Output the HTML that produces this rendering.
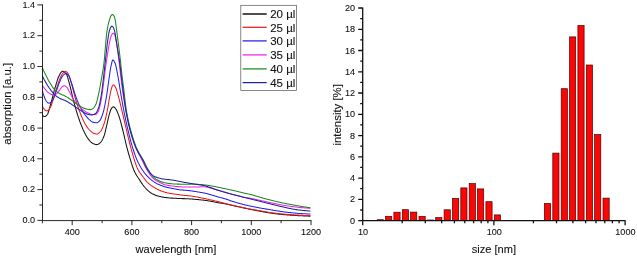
<!DOCTYPE html>
<html><head><meta charset="utf-8"><title>absorption and size distribution</title>
<style>
html,body{margin:0;padding:0;background:#fff;}
svg{display:block;font-family:"Liberation Sans",Arial,sans-serif;fill:#111;}
text{stroke:#111;stroke-width:0.1px;}
.ax{stroke:#111;stroke-width:0.9;fill:none;}
.cv{fill:none;stroke-width:1.05;stroke-linejoin:round;stroke-linecap:round;}
.tk{font-size:9.5px;}
.lb{font-size:11.4px;}
.lg{font-size:11.8px;}
.bar{fill:#fb0505;stroke:#4a0000;stroke-width:0.7;}
</style></head><body>
<svg width="637" height="257" viewBox="0 0 637 257">
<rect width="637" height="257" fill="#fff"/>
<path class="cv" stroke="#151515" d="M42.5,114.8 L43.0,115.5 L43.5,116.1 L44.0,116.5 L44.5,116.6 L45.0,116.5 L45.5,116.3 L46.0,115.9 L46.5,115.5 L47.0,115.0 L47.5,114.3 L48.0,113.2 L48.5,111.8 L49.0,110.2 L49.5,108.4 L50.0,106.6 L50.5,104.7 L51.0,103.0 L51.5,101.3 L52.0,99.4 L52.5,97.5 L53.0,95.5 L53.5,93.5 L54.0,91.6 L54.5,89.7 L55.0,88.0 L55.5,86.3 L56.0,84.6 L56.5,82.9 L57.0,81.3 L57.5,79.7 L58.0,78.3 L58.5,77.0 L59.0,76.0 L59.5,75.0 L60.0,74.1 L60.5,73.2 L61.0,72.4 L61.5,71.8 L62.0,71.4 L62.5,71.2 L63.0,71.3 L63.5,71.4 L64.0,71.7 L64.5,72.1 L65.0,72.5 L65.5,73.0 L66.0,73.5 L66.5,74.3 L67.0,75.4 L67.5,76.9 L68.0,78.6 L68.5,80.4 L69.0,82.2 L69.5,84.0 L70.0,85.8 L70.5,87.8 L71.0,89.9 L71.5,92.1 L72.0,94.3 L72.5,96.5 L73.0,98.6 L73.5,100.6 L74.0,102.5 L74.5,104.3 L75.0,106.1 L75.5,107.9 L76.0,109.6 L76.5,111.3 L77.0,113.0 L77.5,114.6 L78.0,116.1 L78.5,117.6 L79.0,119.0 L79.5,120.5 L80.0,121.9 L80.5,123.2 L81.0,124.5 L81.5,125.8 L82.0,127.0 L82.5,128.2 L83.0,129.4 L83.5,130.4 L84.0,131.5 L84.5,132.5 L85.0,133.5 L85.5,134.5 L86.0,135.4 L86.5,136.3 L87.0,137.2 L87.5,137.9 L88.0,138.7 L88.5,139.3 L89.0,139.9 L89.5,140.5 L90.0,141.1 L90.5,141.6 L91.0,142.1 L91.5,142.5 L92.0,142.9 L92.5,143.2 L93.0,143.5 L93.5,143.7 L94.0,143.9 L94.5,144.1 L95.0,144.3 L95.5,144.4 L96.0,144.5 L96.5,144.6 L97.0,144.6 L97.5,144.5 L98.0,144.3 L98.5,144.0 L99.0,143.7 L99.5,143.3 L100.0,142.9 L100.5,142.5 L101.0,142.0 L101.5,141.3 L102.0,140.5 L102.5,139.5 L103.0,138.4 L103.5,137.2 L104.0,136.0 L104.5,134.5 L105.0,132.7 L105.5,130.6 L106.0,128.4 L106.5,126.3 L107.0,124.2 L107.5,122.0 L108.0,119.7 L108.5,117.5 L109.0,115.4 L109.5,113.7 L110.0,112.0 L110.5,110.5 L111.0,109.2 L111.5,108.4 L112.0,107.7 L112.5,107.2 L113.0,106.9 L113.5,106.8 L114.0,107.0 L114.5,107.4 L115.0,107.9 L115.5,108.5 L116.0,109.2 L116.5,110.0 L117.0,111.1 L117.5,112.3 L118.0,113.6 L118.5,114.9 L119.0,116.3 L119.5,117.8 L120.0,119.4 L120.5,121.2 L121.0,123.1 L121.5,125.0 L122.0,127.0 L122.5,129.0 L123.0,131.0 L123.5,133.0 L124.0,135.1 L124.5,137.3 L125.0,139.5 L125.5,141.7 L126.0,143.8 L126.5,145.8 L127.0,147.8 L127.5,149.6 L128.0,151.5 L128.5,153.3 L129.0,155.0 L129.5,156.7 L130.0,158.4 L130.5,160.0 L131.0,161.6 L131.5,163.3 L132.0,164.9 L132.5,166.5 L133.0,167.9 L133.5,169.3 L134.0,170.6 L134.5,171.6 L135.0,172.6 L135.5,173.5 L136.0,174.4 L136.5,175.2 L137.0,176.0 L137.5,176.7 L138.0,177.5 L138.5,178.2 L139.0,179.0 L139.5,179.8 L140.0,180.6 L140.5,181.4 L141.0,182.1 L141.5,182.9 L142.0,183.6 L142.5,184.3 L143.0,185.0 L143.5,185.6 L144.0,186.3 L144.5,186.9 L145.0,187.5 L145.5,188.0 L146.0,188.6 L146.5,189.1 L147.0,189.6 L147.5,190.1 L148.0,190.6 L148.5,191.0 L149.0,191.5 L149.5,191.9 L150.0,192.3 L150.5,192.6 L151.0,193.0 L151.5,193.3 L152.0,193.6 L152.5,193.9 L153.0,194.1 L153.5,194.3 L154.0,194.6 L154.5,194.8 L155.0,195.0 L155.5,195.2 L156.0,195.4 L156.5,195.5 L157.0,195.7 L157.5,195.9 L158.0,196.0 L158.5,196.1 L159.0,196.3 L159.5,196.4 L160.0,196.5 L160.5,196.6 L161.0,196.8 L161.5,196.9 L162.0,197.0 L162.5,197.1 L163.0,197.1 L163.5,197.2 L164.0,197.3 L164.5,197.4 L165.0,197.4 L165.5,197.5 L166.0,197.6 L166.5,197.6 L167.0,197.7 L167.5,197.7 L168.0,197.8 L168.5,197.8 L169.0,197.9 L169.5,197.9 L170.0,198.0 L170.5,198.0 L171.0,198.0 L171.5,198.1 L172.0,198.1 L172.5,198.1 L173.0,198.2 L173.5,198.2 L174.0,198.2 L174.5,198.2 L175.0,198.3 L175.5,198.3 L176.0,198.3 L176.5,198.3 L177.0,198.4 L177.5,198.4 L178.0,198.4 L178.5,198.4 L179.0,198.4 L179.5,198.5 L180.0,198.5 L180.5,198.5 L181.0,198.5 L181.5,198.5 L182.0,198.6 L182.5,198.6 L183.0,198.6 L183.5,198.6 L184.0,198.6 L184.5,198.6 L185.0,198.7 L185.5,198.7 L186.0,198.7 L186.5,198.7 L187.0,198.8 L187.5,198.8 L188.0,198.8 L188.5,198.8 L189.0,198.8 L189.5,198.9 L190.0,198.9 L190.5,198.9 L191.0,199.0 L191.5,199.0 L192.0,199.0 L192.5,199.1 L193.0,199.1 L193.5,199.2 L194.0,199.2 L194.5,199.3 L195.0,199.3 L195.5,199.4 L196.0,199.4 L196.5,199.5 L197.0,199.5 L197.5,199.5 L198.0,199.6 L198.5,199.6 L199.0,199.7 L199.5,199.7 L200.0,199.8 L200.5,199.8 L201.0,199.9 L201.5,199.9 L202.0,200.0 L202.5,200.0 L203.0,200.1 L203.5,200.1 L204.0,200.2 L204.5,200.3 L205.0,200.3 L205.5,200.4 L206.0,200.5 L206.5,200.5 L207.0,200.6 L207.5,200.7 L208.0,200.8 L208.5,200.9 L209.0,201.0 L209.5,201.0 L210.0,201.1 L210.5,201.2 L211.0,201.3 L211.5,201.4 L212.0,201.5 L212.5,201.6 L213.0,201.7 L213.5,201.8 L214.0,201.9 L214.5,202.0 L215.0,202.1 L215.5,202.2 L216.0,202.3 L216.5,202.4 L217.0,202.5 L217.5,202.6 L218.0,202.7 L218.5,202.8 L219.0,202.9 L219.5,202.9 L220.0,203.0 L220.5,203.1 L221.0,203.2 L221.5,203.2 L222.0,203.3 L222.5,203.4 L223.0,203.5 L223.5,203.5 L224.0,203.6 L224.5,203.7 L225.0,203.8 L225.5,203.9 L226.0,204.0 L226.5,204.1 L227.0,204.2 L227.5,204.3 L228.0,204.4 L228.5,204.6 L229.0,204.7 L229.5,204.8 L230.0,204.9 L230.5,205.1 L231.0,205.2 L231.5,205.3 L232.0,205.4 L232.5,205.5 L233.0,205.6 L233.5,205.7 L234.0,205.8 L234.5,205.9 L235.0,206.0 L235.5,206.2 L236.0,206.3 L236.5,206.4 L237.0,206.5 L237.5,206.6 L238.0,206.7 L238.5,206.8 L239.0,206.9 L239.5,207.0 L240.0,207.1 L240.5,207.2 L241.0,207.3 L241.5,207.4 L242.0,207.5 L242.5,207.7 L243.0,207.8 L243.5,207.9 L244.0,208.0 L244.5,208.1 L245.0,208.2 L245.5,208.3 L246.0,208.4 L246.5,208.5 L247.0,208.6 L247.5,208.7 L248.0,208.8 L248.5,208.9 L249.0,209.1 L249.5,209.2 L250.0,209.3 L250.5,209.4 L251.0,209.5 L251.5,209.6 L252.0,209.7 L252.5,209.8 L253.0,209.9 L253.5,210.0 L254.0,210.1 L254.5,210.2 L255.0,210.3 L255.5,210.4 L256.0,210.5 L256.5,210.6 L257.0,210.6 L257.5,210.7 L258.0,210.8 L258.5,210.9 L259.0,211.0 L259.5,211.1 L260.0,211.2 L260.5,211.3 L261.0,211.4 L261.5,211.5 L262.0,211.6 L262.5,211.7 L263.0,211.8 L263.5,211.9 L264.0,212.0 L264.5,212.1 L265.0,212.2 L265.5,212.3 L266.0,212.3 L266.5,212.4 L267.0,212.5 L267.5,212.6 L268.0,212.7 L268.5,212.7 L269.0,212.8 L269.5,212.9 L270.0,213.0 L270.5,213.0 L271.0,213.1 L271.5,213.2 L272.0,213.2 L272.5,213.3 L273.0,213.4 L273.5,213.4 L274.0,213.5 L274.5,213.6 L275.0,213.6 L275.5,213.7 L276.0,213.8 L276.5,213.8 L277.0,213.9 L277.5,213.9 L278.0,214.0 L278.5,214.1 L279.0,214.1 L279.5,214.2 L280.0,214.2 L280.5,214.3 L281.0,214.3 L281.5,214.4 L282.0,214.4 L282.5,214.5 L283.0,214.5 L283.5,214.6 L284.0,214.6 L284.5,214.7 L285.0,214.7 L285.5,214.7 L286.0,214.8 L286.5,214.8 L287.0,214.9 L287.5,214.9 L288.0,214.9 L288.5,215.0 L289.0,215.0 L289.5,215.0 L290.0,215.1 L290.5,215.1 L291.0,215.1 L291.5,215.2 L292.0,215.2 L292.5,215.2 L293.0,215.3 L293.5,215.3 L294.0,215.3 L294.5,215.4 L295.0,215.4 L295.5,215.4 L296.0,215.5 L296.5,215.5 L297.0,215.5 L297.5,215.6 L298.0,215.6 L298.5,215.6 L299.0,215.6 L299.5,215.7 L300.0,215.7 L300.5,215.7 L301.0,215.7 L301.5,215.8 L302.0,215.8 L302.5,215.8 L303.0,215.8 L303.5,215.9 L304.0,215.9 L304.5,215.9 L305.0,215.9 L305.5,215.9 L306.0,216.0 L306.5,216.0 L307.0,216.0 L307.5,216.0 L308.0,216.0 L308.5,216.1 L309.0,216.1 L309.5,216.1 L310.0,216.1"/>
<path class="cv" stroke="#f01818" d="M42.5,106.2 L43.0,107.2 L43.5,108.1 L44.0,108.9 L44.5,109.6 L45.0,110.0 L45.5,110.3 L46.0,110.6 L46.5,110.8 L47.0,110.9 L47.5,110.8 L48.0,110.5 L48.5,110.0 L49.0,109.4 L49.5,108.7 L50.0,108.0 L50.5,107.2 L51.0,106.1 L51.5,104.7 L52.0,103.3 L52.5,101.7 L53.0,100.1 L53.5,98.5 L54.0,97.0 L54.5,95.5 L55.0,93.8 L55.5,92.1 L56.0,90.4 L56.5,88.7 L57.0,87.0 L57.5,85.4 L58.0,84.0 L58.5,82.6 L59.0,81.2 L59.5,79.9 L60.0,78.6 L60.5,77.3 L61.0,76.2 L61.5,75.3 L62.0,74.5 L62.5,73.8 L63.0,73.1 L63.5,72.5 L64.0,72.0 L64.5,71.6 L65.0,71.3 L65.5,71.3 L66.0,71.5 L66.5,71.9 L67.0,72.3 L67.5,72.9 L68.0,73.6 L68.5,74.3 L69.0,75.4 L69.5,76.8 L70.0,78.4 L70.5,80.2 L71.0,82.0 L71.5,83.7 L72.0,85.5 L72.5,87.4 L73.0,89.4 L73.5,91.4 L74.0,93.4 L74.5,95.4 L75.0,97.2 L75.5,99.0 L76.0,100.7 L76.5,102.3 L77.0,103.9 L77.5,105.4 L78.0,106.9 L78.5,108.4 L79.0,109.8 L79.5,111.2 L80.0,112.5 L80.5,113.8 L81.0,115.0 L81.5,116.2 L82.0,117.4 L82.5,118.6 L83.0,119.7 L83.5,120.8 L84.0,121.8 L84.5,122.7 L85.0,123.7 L85.5,124.5 L86.0,125.3 L86.5,126.1 L87.0,126.9 L87.5,127.6 L88.0,128.3 L88.5,128.9 L89.0,129.5 L89.5,130.0 L90.0,130.5 L90.5,131.0 L91.0,131.5 L91.5,131.9 L92.0,132.3 L92.5,132.7 L93.0,133.0 L93.5,133.2 L94.0,133.4 L94.5,133.5 L95.0,133.7 L95.5,133.8 L96.0,133.9 L96.5,134.0 L97.0,134.0 L97.5,133.9 L98.0,133.7 L98.5,133.4 L99.0,133.0 L99.5,132.5 L100.0,132.0 L100.5,131.5 L101.0,130.9 L101.5,130.0 L102.0,129.1 L102.5,127.9 L103.0,126.7 L103.5,125.4 L104.0,124.0 L104.5,122.5 L105.0,120.7 L105.5,118.7 L106.0,116.6 L106.5,114.3 L107.0,112.0 L107.5,109.5 L108.0,106.6 L108.5,103.5 L109.0,100.5 L109.5,97.6 L110.0,95.0 L110.5,92.5 L111.0,90.1 L111.5,88.1 L112.0,86.8 L112.5,85.8 L113.0,85.0 L113.5,84.9 L114.0,85.2 L114.5,85.7 L115.0,86.4 L115.5,87.2 L116.0,88.2 L116.5,89.6 L117.0,91.3 L117.5,93.1 L118.0,94.9 L118.5,96.7 L119.0,98.6 L119.5,100.5 L120.0,102.5 L120.5,104.6 L121.0,106.7 L121.5,108.8 L122.0,110.8 L122.5,112.9 L123.0,115.1 L123.5,117.2 L124.0,119.4 L124.5,121.6 L125.0,123.7 L125.5,125.9 L126.0,128.0 L126.5,130.1 L127.0,132.2 L127.5,134.3 L128.0,136.4 L128.5,138.5 L129.0,140.5 L129.5,142.5 L130.0,144.5 L130.5,146.4 L131.0,148.3 L131.5,150.1 L132.0,151.9 L132.5,153.7 L133.0,155.5 L133.5,157.2 L134.0,158.8 L134.5,160.3 L135.0,161.8 L135.5,163.3 L136.0,164.7 L136.5,166.1 L137.0,167.4 L137.5,168.6 L138.0,169.6 L138.5,170.5 L139.0,171.4 L139.5,172.2 L140.0,172.9 L140.5,173.5 L141.0,174.2 L141.5,174.8 L142.0,175.5 L142.5,176.1 L143.0,176.8 L143.5,177.5 L144.0,178.1 L144.5,178.8 L145.0,179.5 L145.5,180.2 L146.0,180.8 L146.5,181.4 L147.0,182.0 L147.5,182.5 L148.0,183.0 L148.5,183.4 L149.0,183.8 L149.5,184.2 L150.0,184.6 L150.5,185.0 L151.0,185.3 L151.5,185.7 L152.0,186.0 L152.5,186.3 L153.0,186.7 L153.5,187.0 L154.0,187.3 L154.5,187.6 L155.0,187.9 L155.5,188.2 L156.0,188.5 L156.5,188.8 L157.0,189.1 L157.5,189.4 L158.0,189.6 L158.5,189.8 L159.0,190.1 L159.5,190.3 L160.0,190.5 L160.5,190.7 L161.0,190.9 L161.5,191.1 L162.0,191.3 L162.5,191.4 L163.0,191.6 L163.5,191.8 L164.0,191.9 L164.5,192.1 L165.0,192.2 L165.5,192.4 L166.0,192.5 L166.5,192.6 L167.0,192.8 L167.5,192.9 L168.0,193.0 L168.5,193.1 L169.0,193.2 L169.5,193.3 L170.0,193.4 L170.5,193.5 L171.0,193.5 L171.5,193.6 L172.0,193.7 L172.5,193.8 L173.0,193.8 L173.5,193.9 L174.0,194.0 L174.5,194.0 L175.0,194.1 L175.5,194.2 L176.0,194.2 L176.5,194.3 L177.0,194.4 L177.5,194.5 L178.0,194.5 L178.5,194.6 L179.0,194.7 L179.5,194.7 L180.0,194.8 L180.5,194.9 L181.0,195.0 L181.5,195.0 L182.0,195.1 L182.5,195.1 L183.0,195.2 L183.5,195.3 L184.0,195.3 L184.5,195.4 L185.0,195.4 L185.5,195.5 L186.0,195.5 L186.5,195.5 L187.0,195.6 L187.5,195.6 L188.0,195.7 L188.5,195.7 L189.0,195.8 L189.5,195.8 L190.0,195.9 L190.5,196.0 L191.0,196.0 L191.5,196.1 L192.0,196.2 L192.5,196.2 L193.0,196.3 L193.5,196.4 L194.0,196.5 L194.5,196.6 L195.0,196.7 L195.5,196.7 L196.0,196.8 L196.5,196.9 L197.0,197.0 L197.5,197.1 L198.0,197.2 L198.5,197.3 L199.0,197.4 L199.5,197.5 L200.0,197.6 L200.5,197.7 L201.0,197.8 L201.5,197.9 L202.0,198.0 L202.5,198.1 L203.0,198.2 L203.5,198.3 L204.0,198.4 L204.5,198.5 L205.0,198.6 L205.5,198.7 L206.0,198.8 L206.5,199.0 L207.0,199.1 L207.5,199.2 L208.0,199.3 L208.5,199.4 L209.0,199.5 L209.5,199.7 L210.0,199.8 L210.5,199.9 L211.0,200.0 L211.5,200.1 L212.0,200.2 L212.5,200.3 L213.0,200.5 L213.5,200.6 L214.0,200.7 L214.5,200.8 L215.0,200.9 L215.5,201.0 L216.0,201.1 L216.5,201.2 L217.0,201.4 L217.5,201.5 L218.0,201.6 L218.5,201.7 L219.0,201.8 L219.5,202.0 L220.0,202.1 L220.5,202.2 L221.0,202.4 L221.5,202.5 L222.0,202.6 L222.5,202.8 L223.0,202.9 L223.5,203.0 L224.0,203.1 L224.5,203.3 L225.0,203.4 L225.5,203.5 L226.0,203.6 L226.5,203.8 L227.0,203.9 L227.5,204.0 L228.0,204.1 L228.5,204.3 L229.0,204.4 L229.5,204.5 L230.0,204.6 L230.5,204.7 L231.0,204.9 L231.5,205.0 L232.0,205.1 L232.5,205.2 L233.0,205.3 L233.5,205.5 L234.0,205.6 L234.5,205.7 L235.0,205.8 L235.5,205.9 L236.0,206.0 L236.5,206.1 L237.0,206.3 L237.5,206.4 L238.0,206.5 L238.5,206.6 L239.0,206.7 L239.5,206.8 L240.0,206.9 L240.5,207.0 L241.0,207.1 L241.5,207.2 L242.0,207.4 L242.5,207.5 L243.0,207.6 L243.5,207.7 L244.0,207.8 L244.5,207.9 L245.0,208.0 L245.5,208.1 L246.0,208.2 L246.5,208.3 L247.0,208.4 L247.5,208.5 L248.0,208.6 L248.5,208.7 L249.0,208.8 L249.5,208.9 L250.0,209.0 L250.5,209.1 L251.0,209.2 L251.5,209.3 L252.0,209.4 L252.5,209.5 L253.0,209.6 L253.5,209.7 L254.0,209.8 L254.5,209.8 L255.0,209.9 L255.5,210.0 L256.0,210.1 L256.5,210.1 L257.0,210.2 L257.5,210.3 L258.0,210.4 L258.5,210.4 L259.0,210.5 L259.5,210.6 L260.0,210.7 L260.5,210.8 L261.0,210.9 L261.5,211.0 L262.0,211.1 L262.5,211.2 L263.0,211.3 L263.5,211.4 L264.0,211.5 L264.5,211.6 L265.0,211.7 L265.5,211.8 L266.0,211.8 L266.5,211.9 L267.0,212.0 L267.5,212.1 L268.0,212.2 L268.5,212.2 L269.0,212.3 L269.5,212.4 L270.0,212.5 L270.5,212.5 L271.0,212.6 L271.5,212.7 L272.0,212.7 L272.5,212.8 L273.0,212.9 L273.5,212.9 L274.0,213.0 L274.5,213.1 L275.0,213.1 L275.5,213.2 L276.0,213.3 L276.5,213.3 L277.0,213.4 L277.5,213.4 L278.0,213.5 L278.5,213.6 L279.0,213.6 L279.5,213.7 L280.0,213.7 L280.5,213.8 L281.0,213.8 L281.5,213.9 L282.0,213.9 L282.5,214.0 L283.0,214.0 L283.5,214.1 L284.0,214.1 L284.5,214.2 L285.0,214.2 L285.5,214.2 L286.0,214.3 L286.5,214.3 L287.0,214.4 L287.5,214.4 L288.0,214.4 L288.5,214.5 L289.0,214.5 L289.5,214.5 L290.0,214.6 L290.5,214.6 L291.0,214.6 L291.5,214.7 L292.0,214.7 L292.5,214.7 L293.0,214.8 L293.5,214.8 L294.0,214.8 L294.5,214.9 L295.0,214.9 L295.5,214.9 L296.0,215.0 L296.5,215.0 L297.0,215.0 L297.5,215.1 L298.0,215.1 L298.5,215.1 L299.0,215.1 L299.5,215.2 L300.0,215.2 L300.5,215.2 L301.0,215.2 L301.5,215.3 L302.0,215.3 L302.5,215.3 L303.0,215.3 L303.5,215.4 L304.0,215.4 L304.5,215.4 L305.0,215.4 L305.5,215.4 L306.0,215.5 L306.5,215.5 L307.0,215.5 L307.5,215.5 L308.0,215.5 L308.5,215.6 L309.0,215.6 L309.5,215.6 L310.0,215.6"/>
<path class="cv" stroke="#2020f0" d="M42.5,91.5 L43.0,93.1 L43.5,94.6 L44.0,96.0 L44.5,97.3 L45.0,98.6 L45.5,99.8 L46.0,100.8 L46.5,101.5 L47.0,102.0 L47.5,102.5 L48.0,102.9 L48.5,103.1 L49.0,103.2 L49.5,103.1 L50.0,102.9 L50.5,102.5 L51.0,102.1 L51.5,101.5 L52.0,101.0 L52.5,100.3 L53.0,99.5 L53.5,98.4 L54.0,97.2 L54.5,95.9 L55.0,94.6 L55.5,93.3 L56.0,92.0 L56.5,90.7 L57.0,89.3 L57.5,87.8 L58.0,86.4 L58.5,84.9 L59.0,83.5 L59.5,82.2 L60.0,81.0 L60.5,79.9 L61.0,78.8 L61.5,77.8 L62.0,76.9 L62.5,76.1 L63.0,75.5 L63.5,75.0 L64.0,74.5 L64.5,74.1 L65.0,73.8 L65.5,73.6 L66.0,73.6 L66.5,73.8 L67.0,74.1 L67.5,74.5 L68.0,75.0 L68.5,75.5 L69.0,76.2 L69.5,77.3 L70.0,78.6 L70.5,80.1 L71.0,81.6 L71.5,83.0 L72.0,84.5 L72.5,86.0 L73.0,87.7 L73.5,89.4 L74.0,91.0 L74.5,92.7 L75.0,94.3 L75.5,95.7 L76.0,97.1 L76.5,98.4 L77.0,99.7 L77.5,101.0 L78.0,102.2 L78.5,103.4 L79.0,104.5 L79.5,105.6 L80.0,106.6 L80.5,107.6 L81.0,108.5 L81.5,109.4 L82.0,110.2 L82.5,111.1 L83.0,111.9 L83.5,112.6 L84.0,113.4 L84.5,114.1 L85.0,114.7 L85.5,115.4 L86.0,116.0 L86.5,116.6 L87.0,117.2 L87.5,117.8 L88.0,118.4 L88.5,118.9 L89.0,119.4 L89.5,119.8 L90.0,120.2 L90.5,120.6 L91.0,121.1 L91.5,121.4 L92.0,121.7 L92.5,122.0 L93.0,122.2 L93.5,122.3 L94.0,122.5 L94.5,122.6 L95.0,122.7 L95.5,122.8 L96.0,122.8 L96.5,122.8 L97.0,122.7 L97.5,122.5 L98.0,122.2 L98.5,121.8 L99.0,121.4 L99.5,121.0 L100.0,120.4 L100.5,119.6 L101.0,118.6 L101.5,117.3 L102.0,116.0 L102.5,114.5 L103.0,113.0 L103.5,111.3 L104.0,109.3 L104.5,107.0 L105.0,104.5 L105.5,101.8 L106.0,99.1 L106.5,96.3 L107.0,93.0 L107.5,89.6 L108.0,86.0 L108.5,82.4 L109.0,79.0 L109.5,75.5 L110.0,71.9 L110.5,68.6 L111.0,66.0 L111.5,63.8 L112.0,61.7 L112.5,60.3 L113.0,59.9 L113.5,60.2 L114.0,61.0 L114.5,61.9 L115.0,63.0 L115.5,64.4 L116.0,66.4 L116.5,68.7 L117.0,71.3 L117.5,74.0 L118.0,76.6 L118.5,79.5 L119.0,82.6 L119.5,85.8 L120.0,89.0 L120.5,92.0 L121.0,94.9 L121.5,97.8 L122.0,100.7 L122.5,103.5 L123.0,106.3 L123.5,109.0 L124.0,111.5 L124.5,114.1 L125.0,116.5 L125.5,118.9 L126.0,121.3 L126.5,123.6 L127.0,125.8 L127.5,128.0 L128.0,130.1 L128.5,132.2 L129.0,134.3 L129.5,136.3 L130.0,138.3 L130.5,140.3 L131.0,142.1 L131.5,143.9 L132.0,145.7 L132.5,147.3 L133.0,148.9 L133.5,150.5 L134.0,152.0 L134.5,153.5 L135.0,154.9 L135.5,156.3 L136.0,157.6 L136.5,158.8 L137.0,160.0 L137.5,161.1 L138.0,162.2 L138.5,163.2 L139.0,164.1 L139.5,165.1 L140.0,166.0 L140.5,166.8 L141.0,167.7 L141.5,168.5 L142.0,169.3 L142.5,170.1 L143.0,170.8 L143.5,171.5 L144.0,172.2 L144.5,172.9 L145.0,173.5 L145.5,174.1 L146.0,174.7 L146.5,175.3 L147.0,175.9 L147.5,176.4 L148.0,176.9 L148.5,177.4 L149.0,177.9 L149.5,178.4 L150.0,178.8 L150.5,179.2 L151.0,179.7 L151.5,180.1 L152.0,180.5 L152.5,180.8 L153.0,181.2 L153.5,181.6 L154.0,181.9 L154.5,182.3 L155.0,182.6 L155.5,182.9 L156.0,183.1 L156.5,183.4 L157.0,183.7 L157.5,183.9 L158.0,184.1 L158.5,184.4 L159.0,184.6 L159.5,184.8 L160.0,185.0 L160.5,185.2 L161.0,185.4 L161.5,185.6 L162.0,185.8 L162.5,186.0 L163.0,186.2 L163.5,186.3 L164.0,186.5 L164.5,186.7 L165.0,186.8 L165.5,187.0 L166.0,187.1 L166.5,187.2 L167.0,187.4 L167.5,187.5 L168.0,187.6 L168.5,187.7 L169.0,187.8 L169.5,187.9 L170.0,188.0 L170.5,188.1 L171.0,188.2 L171.5,188.3 L172.0,188.4 L172.5,188.5 L173.0,188.6 L173.5,188.7 L174.0,188.8 L174.5,188.9 L175.0,189.0 L175.5,189.1 L176.0,189.2 L176.5,189.3 L177.0,189.4 L177.5,189.4 L178.0,189.5 L178.5,189.6 L179.0,189.7 L179.5,189.7 L180.0,189.8 L180.5,189.9 L181.0,189.9 L181.5,190.0 L182.0,190.0 L182.5,190.0 L183.0,190.1 L183.5,190.1 L184.0,190.2 L184.5,190.2 L185.0,190.2 L185.5,190.3 L186.0,190.3 L186.5,190.3 L187.0,190.4 L187.5,190.4 L188.0,190.5 L188.5,190.5 L189.0,190.6 L189.5,190.6 L190.0,190.7 L190.5,190.8 L191.0,190.8 L191.5,190.9 L192.0,191.0 L192.5,191.1 L193.0,191.1 L193.5,191.2 L194.0,191.3 L194.5,191.4 L195.0,191.5 L195.5,191.5 L196.0,191.6 L196.5,191.7 L197.0,191.8 L197.5,191.9 L198.0,192.0 L198.5,192.0 L199.0,192.1 L199.5,192.2 L200.0,192.3 L200.5,192.4 L201.0,192.4 L201.5,192.5 L202.0,192.6 L202.5,192.7 L203.0,192.8 L203.5,192.9 L204.0,193.0 L204.5,193.1 L205.0,193.2 L205.5,193.3 L206.0,193.5 L206.5,193.6 L207.0,193.7 L207.5,193.8 L208.0,194.0 L208.5,194.1 L209.0,194.2 L209.5,194.4 L210.0,194.5 L210.5,194.7 L211.0,194.8 L211.5,194.9 L212.0,195.1 L212.5,195.2 L213.0,195.4 L213.5,195.5 L214.0,195.7 L214.5,195.8 L215.0,196.0 L215.5,196.2 L216.0,196.3 L216.5,196.5 L217.0,196.6 L217.5,196.8 L218.0,196.9 L218.5,197.0 L219.0,197.2 L219.5,197.3 L220.0,197.4 L220.5,197.6 L221.0,197.7 L221.5,197.8 L222.0,198.0 L222.5,198.1 L223.0,198.2 L223.5,198.4 L224.0,198.5 L224.5,198.7 L225.0,198.8 L225.5,199.0 L226.0,199.1 L226.5,199.3 L227.0,199.5 L227.5,199.6 L228.0,199.8 L228.5,200.0 L229.0,200.2 L229.5,200.3 L230.0,200.5 L230.5,200.7 L231.0,200.9 L231.5,201.0 L232.0,201.2 L232.5,201.4 L233.0,201.5 L233.5,201.7 L234.0,201.8 L234.5,202.0 L235.0,202.1 L235.5,202.3 L236.0,202.4 L236.5,202.6 L237.0,202.7 L237.5,202.9 L238.0,203.0 L238.5,203.2 L239.0,203.3 L239.5,203.4 L240.0,203.6 L240.5,203.7 L241.0,203.8 L241.5,204.0 L242.0,204.1 L242.5,204.2 L243.0,204.4 L243.5,204.5 L244.0,204.6 L244.5,204.7 L245.0,204.9 L245.5,205.0 L246.0,205.1 L246.5,205.2 L247.0,205.3 L247.5,205.4 L248.0,205.6 L248.5,205.7 L249.0,205.8 L249.5,205.9 L250.0,206.0 L250.5,206.1 L251.0,206.2 L251.5,206.3 L252.0,206.4 L252.5,206.5 L253.0,206.6 L253.5,206.7 L254.0,206.8 L254.5,206.9 L255.0,207.0 L255.5,207.1 L256.0,207.2 L256.5,207.3 L257.0,207.4 L257.5,207.5 L258.0,207.6 L258.5,207.7 L259.0,207.8 L259.5,207.9 L260.0,208.0 L260.5,208.1 L261.0,208.2 L261.5,208.2 L262.0,208.3 L262.5,208.4 L263.0,208.4 L263.5,208.5 L264.0,208.6 L264.5,208.7 L265.0,208.8 L265.5,208.9 L266.0,209.0 L266.5,209.1 L267.0,209.1 L267.5,209.2 L268.0,209.3 L268.5,209.4 L269.0,209.5 L269.5,209.6 L270.0,209.7 L270.5,209.8 L271.0,209.9 L271.5,210.0 L272.0,210.1 L272.5,210.1 L273.0,210.2 L273.5,210.3 L274.0,210.4 L274.5,210.5 L275.0,210.5 L275.5,210.6 L276.0,210.7 L276.5,210.8 L277.0,210.8 L277.5,210.9 L278.0,211.0 L278.5,211.1 L279.0,211.1 L279.5,211.2 L280.0,211.3 L280.5,211.4 L281.0,211.4 L281.5,211.5 L282.0,211.6 L282.5,211.7 L283.0,211.7 L283.5,211.8 L284.0,211.9 L284.5,211.9 L285.0,212.0 L285.5,212.1 L286.0,212.1 L286.5,212.2 L287.0,212.2 L287.5,212.3 L288.0,212.4 L288.5,212.4 L289.0,212.5 L289.5,212.5 L290.0,212.6 L290.5,212.6 L291.0,212.7 L291.5,212.7 L292.0,212.8 L292.5,212.8 L293.0,212.9 L293.5,212.9 L294.0,213.0 L294.5,213.0 L295.0,213.1 L295.5,213.1 L296.0,213.2 L296.5,213.2 L297.0,213.3 L297.5,213.3 L298.0,213.4 L298.5,213.4 L299.0,213.4 L299.5,213.5 L300.0,213.5 L300.5,213.5 L301.0,213.6 L301.5,213.6 L302.0,213.6 L302.5,213.7 L303.0,213.7 L303.5,213.7 L304.0,213.7 L304.5,213.8 L305.0,213.8 L305.5,213.8 L306.0,213.8 L306.5,213.9 L307.0,213.9 L307.5,213.9 L308.0,213.9 L308.5,214.0 L309.0,214.0 L309.5,214.0 L310.0,214.0"/>
<path class="cv" stroke="#f020f0" d="M42.5,85.7 L43.0,86.4 L43.5,87.1 L44.0,87.7 L44.5,88.4 L45.0,89.0 L45.5,89.6 L46.0,90.2 L46.5,90.8 L47.0,91.3 L47.5,91.9 L48.0,92.3 L48.5,92.7 L49.0,93.1 L49.5,93.5 L50.0,93.8 L50.5,94.1 L51.0,94.3 L51.5,94.5 L52.0,94.6 L52.5,94.8 L53.0,94.9 L53.5,95.0 L54.0,95.0 L54.5,94.9 L55.0,94.8 L55.5,94.5 L56.0,94.2 L56.5,93.9 L57.0,93.5 L57.5,93.0 L58.0,92.4 L58.5,91.7 L59.0,90.9 L59.5,90.2 L60.0,89.5 L60.5,88.8 L61.0,88.1 L61.5,87.5 L62.0,86.9 L62.5,86.5 L63.0,86.2 L63.5,86.0 L64.0,85.8 L64.5,85.7 L65.0,85.8 L65.5,86.1 L66.0,86.5 L66.5,87.0 L67.0,87.5 L67.5,88.1 L68.0,88.9 L68.5,89.9 L69.0,90.9 L69.5,91.8 L70.0,92.7 L70.5,93.7 L71.0,94.7 L71.5,95.8 L72.0,96.8 L72.5,97.8 L73.0,98.7 L73.5,99.5 L74.0,100.3 L74.5,101.0 L75.0,101.7 L75.5,102.3 L76.0,102.9 L76.5,103.5 L77.0,104.1 L77.5,104.6 L78.0,105.2 L78.5,105.7 L79.0,106.2 L79.5,106.7 L80.0,107.2 L80.5,107.6 L81.0,108.1 L81.5,108.5 L82.0,109.0 L82.5,109.4 L83.0,109.8 L83.5,110.1 L84.0,110.5 L84.5,110.9 L85.0,111.2 L85.5,111.5 L86.0,111.9 L86.5,112.2 L87.0,112.5 L87.5,112.8 L88.0,113.1 L88.5,113.3 L89.0,113.5 L89.5,113.7 L90.0,113.9 L90.5,114.1 L91.0,114.2 L91.5,114.4 L92.0,114.5 L92.5,114.5 L93.0,114.5 L93.5,114.5 L94.0,114.5 L94.5,114.5 L95.0,114.5 L95.5,114.5 L96.0,114.4 L96.5,114.0 L97.0,113.4 L97.5,112.8 L98.0,112.0 L98.5,111.0 L99.0,109.5 L99.5,107.7 L100.0,105.6 L100.5,103.4 L101.0,101.0 L101.5,98.2 L102.0,94.9 L102.5,91.3 L103.0,87.7 L103.5,84.0 L104.0,80.2 L104.5,76.2 L105.0,72.1 L105.5,68.0 L106.0,64.2 L106.5,60.6 L107.0,57.3 L107.5,54.2 L108.0,51.2 L108.5,48.2 L109.0,45.2 L109.5,42.5 L110.0,40.2 L110.5,38.2 L111.0,36.5 L111.5,35.3 L112.0,34.3 L112.5,33.7 L113.0,33.3 L113.5,33.2 L114.0,33.5 L114.5,34.2 L115.0,35.5 L115.5,37.5 L116.0,39.9 L116.5,42.8 L117.0,46.0 L117.5,49.4 L118.0,53.1 L118.5,57.2 L119.0,61.3 L119.5,65.5 L120.0,69.6 L120.5,73.8 L121.0,78.1 L121.5,82.3 L122.0,86.3 L122.5,90.0 L123.0,93.4 L123.5,96.7 L124.0,99.8 L124.5,102.8 L125.0,105.7 L125.5,108.4 L126.0,111.0 L126.5,113.6 L127.0,116.1 L127.5,118.5 L128.0,120.8 L128.5,123.1 L129.0,125.2 L129.5,127.3 L130.0,129.2 L130.5,131.1 L131.0,132.9 L131.5,134.7 L132.0,136.4 L132.5,138.0 L133.0,139.6 L133.5,141.2 L134.0,142.6 L134.5,144.1 L135.0,145.4 L135.5,146.8 L136.0,148.0 L136.5,149.2 L137.0,150.3 L137.5,151.4 L138.0,152.4 L138.5,153.4 L139.0,154.3 L139.5,155.3 L140.0,156.2 L140.5,157.1 L141.0,158.1 L141.5,159.0 L142.0,160.0 L142.5,161.0 L143.0,162.1 L143.5,163.1 L144.0,164.2 L144.5,165.2 L145.0,166.2 L145.5,167.2 L146.0,168.1 L146.5,169.0 L147.0,169.9 L147.5,170.8 L148.0,171.6 L148.5,172.5 L149.0,173.3 L149.5,174.0 L150.0,174.7 L150.5,175.3 L151.0,175.9 L151.5,176.5 L152.0,177.1 L152.5,177.6 L153.0,178.1 L153.5,178.6 L154.0,179.0 L154.5,179.4 L155.0,179.8 L155.5,180.1 L156.0,180.5 L156.5,180.8 L157.0,181.1 L157.5,181.3 L158.0,181.6 L158.5,181.8 L159.0,182.1 L159.5,182.3 L160.0,182.6 L160.5,182.8 L161.0,183.0 L161.5,183.3 L162.0,183.6 L162.5,183.8 L163.0,184.0 L163.5,184.3 L164.0,184.5 L164.5,184.7 L165.0,184.8 L165.5,184.9 L166.0,185.0 L166.5,185.1 L167.0,185.2 L167.5,185.3 L168.0,185.4 L168.5,185.5 L169.0,185.6 L169.5,185.6 L170.0,185.7 L170.5,185.8 L171.0,185.9 L171.5,185.9 L172.0,186.0 L172.5,186.0 L173.0,186.1 L173.5,186.2 L174.0,186.2 L174.5,186.3 L175.0,186.3 L175.5,186.4 L176.0,186.4 L176.5,186.5 L177.0,186.5 L177.5,186.6 L178.0,186.6 L178.5,186.6 L179.0,186.7 L179.5,186.7 L180.0,186.7 L180.5,186.8 L181.0,186.8 L181.5,186.8 L182.0,186.9 L182.5,186.9 L183.0,186.9 L183.5,186.9 L184.0,187.0 L184.5,187.0 L185.0,187.0 L185.5,187.0 L186.0,187.0 L186.5,187.0 L187.0,187.0 L187.5,187.0 L188.0,187.0 L188.5,187.0 L189.0,187.0 L189.5,187.0 L190.0,187.0 L190.5,187.0 L191.0,187.0 L191.5,187.0 L192.0,187.0 L192.5,187.0 L193.0,187.0 L193.5,187.0 L194.0,187.0 L194.5,186.9 L195.0,186.9 L195.5,186.9 L196.0,186.9 L196.5,186.9 L197.0,186.9 L197.5,186.9 L198.0,186.9 L198.5,186.9 L199.0,186.9 L199.5,186.9 L200.0,186.8 L200.5,186.8 L201.0,186.8 L201.5,186.8 L202.0,186.8 L202.5,186.8 L203.0,186.8 L203.5,186.8 L204.0,186.8 L204.5,186.8 L205.0,186.8 L205.5,186.9 L206.0,187.0 L206.5,187.1 L207.0,187.2 L207.5,187.3 L208.0,187.4 L208.5,187.5 L209.0,187.7 L209.5,187.8 L210.0,187.9 L210.5,188.1 L211.0,188.2 L211.5,188.3 L212.0,188.4 L212.5,188.6 L213.0,188.7 L213.5,188.9 L214.0,189.0 L214.5,189.2 L215.0,189.3 L215.5,189.5 L216.0,189.6 L216.5,189.8 L217.0,189.9 L217.5,190.1 L218.0,190.2 L218.5,190.3 L219.0,190.5 L219.5,190.6 L220.0,190.8 L220.5,190.9 L221.0,191.1 L221.5,191.2 L222.0,191.3 L222.5,191.5 L223.0,191.6 L223.5,191.8 L224.0,191.9 L224.5,192.1 L225.0,192.2 L225.5,192.3 L226.0,192.5 L226.5,192.6 L227.0,192.8 L227.5,192.9 L228.0,193.1 L228.5,193.2 L229.0,193.4 L229.5,193.5 L230.0,193.6 L230.5,193.8 L231.0,193.9 L231.5,194.1 L232.0,194.2 L232.5,194.3 L233.0,194.5 L233.5,194.6 L234.0,194.7 L234.5,194.9 L235.0,195.0 L235.5,195.1 L236.0,195.2 L236.5,195.4 L237.0,195.5 L237.5,195.6 L238.0,195.7 L238.5,195.9 L239.0,196.0 L239.5,196.1 L240.0,196.3 L240.5,196.4 L241.0,196.5 L241.5,196.7 L242.0,196.8 L242.5,196.9 L243.0,197.1 L243.5,197.2 L244.0,197.3 L244.5,197.4 L245.0,197.5 L245.5,197.6 L246.0,197.7 L246.5,197.8 L247.0,197.8 L247.5,197.9 L248.0,198.0 L248.5,198.0 L249.0,198.1 L249.5,198.1 L250.0,198.2 L250.5,198.3 L251.0,198.4 L251.5,198.5 L252.0,198.6 L252.5,198.7 L253.0,198.8 L253.5,198.9 L254.0,199.0 L254.5,199.1 L255.0,199.2 L255.5,199.4 L256.0,199.5 L256.5,199.6 L257.0,199.7 L257.5,199.8 L258.0,199.9 L258.5,200.0 L259.0,200.1 L259.5,200.2 L260.0,200.3 L260.5,200.4 L261.0,200.6 L261.5,200.7 L262.0,200.8 L262.5,200.9 L263.0,201.0 L263.5,201.1 L264.0,201.2 L264.5,201.3 L265.0,201.4 L265.5,201.5 L266.0,201.7 L266.5,201.8 L267.0,201.9 L267.5,202.0 L268.0,202.1 L268.5,202.2 L269.0,202.4 L269.5,202.5 L270.0,202.6 L270.5,202.7 L271.0,202.8 L271.5,202.9 L272.0,203.0 L272.5,203.1 L273.0,203.2 L273.5,203.3 L274.0,203.4 L274.5,203.5 L275.0,203.6 L275.5,203.7 L276.0,203.8 L276.5,203.9 L277.0,204.0 L277.5,204.1 L278.0,204.2 L278.5,204.3 L279.0,204.4 L279.5,204.5 L280.0,204.6 L280.5,204.7 L281.0,204.8 L281.5,204.9 L282.0,205.0 L282.5,205.1 L283.0,205.2 L283.5,205.2 L284.0,205.3 L284.5,205.4 L285.0,205.5 L285.5,205.6 L286.0,205.7 L286.5,205.7 L287.0,205.8 L287.5,205.9 L288.0,206.0 L288.5,206.0 L289.0,206.1 L289.5,206.2 L290.0,206.2 L290.5,206.3 L291.0,206.4 L291.5,206.4 L292.0,206.5 L292.5,206.6 L293.0,206.6 L293.5,206.7 L294.0,206.8 L294.5,206.8 L295.0,206.9 L295.5,207.0 L296.0,207.0 L296.5,207.1 L297.0,207.2 L297.5,207.2 L298.0,207.3 L298.5,207.3 L299.0,207.4 L299.5,207.5 L300.0,207.5 L300.5,207.5 L301.0,207.6 L301.5,207.6 L302.0,207.7 L302.5,207.7 L303.0,207.8 L303.5,207.8 L304.0,207.8 L304.5,207.9 L305.0,207.9 L305.5,207.9 L306.0,208.0 L306.5,208.0 L307.0,208.0 L307.5,208.1 L308.0,208.1 L308.5,208.1 L309.0,208.2 L309.5,208.2 L310.0,208.2"/>
<path class="cv" stroke="#1a8a1a" d="M42.5,68.2 L43.0,69.3 L43.5,70.4 L44.0,71.4 L44.5,72.5 L45.0,73.5 L45.5,74.5 L46.0,75.5 L46.5,76.5 L47.0,77.5 L47.5,78.5 L48.0,79.4 L48.5,80.4 L49.0,81.3 L49.5,82.2 L50.0,83.0 L50.5,83.8 L51.0,84.6 L51.5,85.4 L52.0,86.2 L52.5,86.9 L53.0,87.7 L53.5,88.3 L54.0,89.0 L54.5,89.6 L55.0,90.1 L55.5,90.6 L56.0,91.0 L56.5,91.5 L57.0,91.8 L57.5,92.2 L58.0,92.6 L58.5,92.9 L59.0,93.2 L59.5,93.5 L60.0,93.8 L60.5,94.1 L61.0,94.3 L61.5,94.5 L62.0,94.7 L62.5,94.9 L63.0,95.1 L63.5,95.3 L64.0,95.5 L64.5,95.7 L65.0,96.0 L65.5,96.2 L66.0,96.5 L66.5,96.7 L67.0,97.1 L67.5,97.4 L68.0,97.7 L68.5,98.0 L69.0,98.4 L69.5,98.7 L70.0,99.1 L70.5,99.5 L71.0,99.8 L71.5,100.1 L72.0,100.5 L72.5,100.9 L73.0,101.2 L73.5,101.6 L74.0,102.0 L74.5,102.3 L75.0,102.7 L75.5,103.1 L76.0,103.4 L76.5,103.8 L77.0,104.1 L77.5,104.4 L78.0,104.8 L78.5,105.1 L79.0,105.4 L79.5,105.8 L80.0,106.1 L80.5,106.4 L81.0,106.7 L81.5,107.0 L82.0,107.3 L82.5,107.6 L83.0,107.8 L83.5,108.0 L84.0,108.2 L84.5,108.4 L85.0,108.6 L85.5,108.8 L86.0,109.0 L86.5,109.1 L87.0,109.2 L87.5,109.3 L88.0,109.4 L88.5,109.5 L89.0,109.5 L89.5,109.6 L90.0,109.6 L90.5,109.6 L91.0,109.4 L91.5,109.3 L92.0,109.0 L92.5,108.8 L93.0,108.5 L93.5,108.1 L94.0,107.6 L94.5,106.8 L95.0,106.0 L95.5,105.1 L96.0,104.0 L96.5,102.7 L97.0,100.9 L97.5,98.9 L98.0,96.7 L98.5,94.4 L99.0,92.1 L99.5,89.6 L100.0,87.0 L100.5,84.3 L101.0,81.5 L101.5,78.6 L102.0,75.7 L102.5,72.9 L103.0,69.9 L103.5,66.6 L104.0,62.8 L104.5,57.9 L105.0,51.8 L105.5,45.9 L106.0,40.0 L106.5,34.8 L107.0,31.1 L107.5,28.1 L108.0,25.5 L108.5,23.4 L109.0,21.5 L109.5,19.8 L110.0,18.2 L110.5,16.8 L111.0,15.8 L111.5,15.1 L112.0,14.6 L112.5,14.5 L113.0,14.8 L113.5,15.3 L114.0,16.0 L114.5,17.3 L115.0,19.2 L115.5,21.6 L116.0,25.2 L116.5,29.2 L117.0,33.0 L117.5,37.0 L118.0,41.0 L118.5,45.0 L119.0,48.9 L119.5,52.8 L120.0,56.8 L120.5,61.1 L121.0,66.0 L121.5,71.1 L122.0,75.5 L122.5,79.5 L123.0,83.3 L123.5,87.2 L124.0,91.3 L124.5,95.7 L125.0,100.1 L125.5,104.3 L126.0,108.1 L126.5,111.2 L127.0,114.0 L127.5,116.6 L128.0,119.1 L128.5,121.4 L129.0,123.5 L129.5,125.6 L130.0,127.6 L130.5,129.5 L131.0,131.3 L131.5,133.1 L132.0,134.8 L132.5,136.5 L133.0,138.1 L133.5,139.7 L134.0,141.2 L134.5,142.6 L135.0,144.0 L135.5,145.4 L136.0,146.6 L136.5,147.9 L137.0,149.0 L137.5,150.1 L138.0,151.1 L138.5,152.0 L139.0,152.9 L139.5,153.8 L140.0,154.6 L140.5,155.4 L141.0,156.3 L141.5,157.1 L142.0,157.9 L142.5,158.8 L143.0,159.6 L143.5,160.6 L144.0,161.5 L144.5,162.5 L145.0,163.5 L145.5,164.5 L146.0,165.4 L146.5,166.4 L147.0,167.4 L147.5,168.3 L148.0,169.2 L148.5,170.0 L149.0,170.8 L149.5,171.7 L150.0,172.5 L150.5,173.3 L151.0,174.1 L151.5,174.8 L152.0,175.5 L152.5,176.1 L153.0,176.6 L153.5,177.1 L154.0,177.5 L154.5,178.0 L155.0,178.4 L155.5,178.7 L156.0,179.1 L156.5,179.4 L157.0,179.7 L157.5,180.0 L158.0,180.3 L158.5,180.6 L159.0,180.8 L159.5,181.0 L160.0,181.2 L160.5,181.5 L161.0,181.7 L161.5,181.8 L162.0,182.0 L162.5,182.2 L163.0,182.3 L163.5,182.4 L164.0,182.6 L164.5,182.7 L165.0,182.8 L165.5,182.9 L166.0,183.0 L166.5,183.1 L167.0,183.2 L167.5,183.3 L168.0,183.4 L168.5,183.4 L169.0,183.5 L169.5,183.6 L170.0,183.6 L170.5,183.7 L171.0,183.7 L171.5,183.7 L172.0,183.8 L172.5,183.8 L173.0,183.9 L173.5,183.9 L174.0,183.9 L174.5,183.9 L175.0,184.0 L175.5,184.0 L176.0,184.0 L176.5,184.0 L177.0,184.1 L177.5,184.1 L178.0,184.1 L178.5,184.1 L179.0,184.1 L179.5,184.1 L180.0,184.2 L180.5,184.2 L181.0,184.2 L181.5,184.2 L182.0,184.2 L182.5,184.2 L183.0,184.2 L183.5,184.2 L184.0,184.2 L184.5,184.2 L185.0,184.2 L185.5,184.2 L186.0,184.2 L186.5,184.2 L187.0,184.2 L187.5,184.2 L188.0,184.2 L188.5,184.2 L189.0,184.2 L189.5,184.2 L190.0,184.2 L190.5,184.2 L191.0,184.2 L191.5,184.2 L192.0,184.2 L192.5,184.2 L193.0,184.2 L193.5,184.2 L194.0,184.2 L194.5,184.2 L195.0,184.3 L195.5,184.3 L196.0,184.3 L196.5,184.3 L197.0,184.3 L197.5,184.3 L198.0,184.3 L198.5,184.4 L199.0,184.4 L199.5,184.4 L200.0,184.4 L200.5,184.5 L201.0,184.5 L201.5,184.6 L202.0,184.6 L202.5,184.7 L203.0,184.7 L203.5,184.8 L204.0,184.8 L204.5,184.9 L205.0,184.9 L205.5,185.0 L206.0,185.0 L206.5,185.1 L207.0,185.2 L207.5,185.3 L208.0,185.4 L208.5,185.5 L209.0,185.5 L209.5,185.6 L210.0,185.7 L210.5,185.8 L211.0,185.9 L211.5,186.0 L212.0,186.1 L212.5,186.2 L213.0,186.3 L213.5,186.3 L214.0,186.4 L214.5,186.5 L215.0,186.6 L215.5,186.7 L216.0,186.8 L216.5,186.9 L217.0,187.0 L217.5,187.1 L218.0,187.2 L218.5,187.3 L219.0,187.4 L219.5,187.5 L220.0,187.6 L220.5,187.7 L221.0,187.8 L221.5,187.9 L222.0,188.0 L222.5,188.2 L223.0,188.3 L223.5,188.4 L224.0,188.5 L224.5,188.6 L225.0,188.7 L225.5,188.8 L226.0,188.9 L226.5,189.0 L227.0,189.1 L227.5,189.2 L228.0,189.3 L228.5,189.4 L229.0,189.6 L229.5,189.7 L230.0,189.8 L230.5,189.9 L231.0,190.0 L231.5,190.1 L232.0,190.2 L232.5,190.3 L233.0,190.4 L233.5,190.5 L234.0,190.6 L234.5,190.8 L235.0,190.9 L235.5,191.0 L236.0,191.1 L236.5,191.2 L237.0,191.3 L237.5,191.4 L238.0,191.6 L238.5,191.7 L239.0,191.8 L239.5,191.9 L240.0,192.0 L240.5,192.2 L241.0,192.3 L241.5,192.4 L242.0,192.5 L242.5,192.7 L243.0,192.8 L243.5,192.9 L244.0,193.0 L244.5,193.2 L245.0,193.3 L245.5,193.4 L246.0,193.5 L246.5,193.6 L247.0,193.7 L247.5,193.8 L248.0,193.9 L248.5,194.0 L249.0,194.1 L249.5,194.2 L250.0,194.3 L250.5,194.4 L251.0,194.5 L251.5,194.7 L252.0,194.8 L252.5,195.0 L253.0,195.1 L253.5,195.2 L254.0,195.4 L254.5,195.5 L255.0,195.7 L255.5,195.9 L256.0,196.0 L256.5,196.2 L257.0,196.3 L257.5,196.4 L258.0,196.6 L258.5,196.7 L259.0,196.9 L259.5,197.1 L260.0,197.2 L260.5,197.4 L261.0,197.5 L261.5,197.7 L262.0,197.8 L262.5,198.0 L263.0,198.1 L263.5,198.3 L264.0,198.4 L264.5,198.5 L265.0,198.7 L265.5,198.8 L266.0,198.9 L266.5,199.1 L267.0,199.2 L267.5,199.3 L268.0,199.5 L268.5,199.6 L269.0,199.7 L269.5,199.8 L270.0,200.0 L270.5,200.1 L271.0,200.2 L271.5,200.3 L272.0,200.4 L272.5,200.6 L273.0,200.7 L273.5,200.8 L274.0,200.9 L274.5,201.1 L275.0,201.2 L275.5,201.3 L276.0,201.4 L276.5,201.6 L277.0,201.7 L277.5,201.8 L278.0,201.9 L278.5,202.0 L279.0,202.1 L279.5,202.2 L280.0,202.3 L280.5,202.5 L281.0,202.6 L281.5,202.7 L282.0,202.8 L282.5,202.9 L283.0,203.0 L283.5,203.1 L284.0,203.2 L284.5,203.3 L285.0,203.4 L285.5,203.5 L286.0,203.6 L286.5,203.7 L287.0,203.8 L287.5,203.9 L288.0,204.0 L288.5,204.1 L289.0,204.2 L289.5,204.2 L290.0,204.3 L290.5,204.4 L291.0,204.5 L291.5,204.6 L292.0,204.7 L292.5,204.8 L293.0,204.9 L293.5,205.0 L294.0,205.1 L294.5,205.2 L295.0,205.3 L295.5,205.4 L296.0,205.5 L296.5,205.6 L297.0,205.7 L297.5,205.8 L298.0,205.8 L298.5,205.9 L299.0,206.0 L299.5,206.1 L300.0,206.2 L300.5,206.3 L301.0,206.4 L301.5,206.4 L302.0,206.5 L302.5,206.6 L303.0,206.7 L303.5,206.8 L304.0,206.8 L304.5,206.9 L305.0,207.0 L305.5,207.1 L306.0,207.1 L306.5,207.2 L307.0,207.3 L307.5,207.4 L308.0,207.4 L308.5,207.5 L309.0,207.6 L309.5,207.6 L310.0,207.7"/>
<path class="cv" stroke="#20209a" d="M42.5,76.3 L43.0,77.3 L43.5,78.3 L44.0,79.3 L44.5,80.2 L45.0,81.1 L45.5,82.0 L46.0,82.9 L46.5,83.7 L47.0,84.5 L47.5,85.3 L48.0,86.1 L48.5,86.8 L49.0,87.6 L49.5,88.3 L50.0,89.0 L50.5,89.7 L51.0,90.3 L51.5,91.0 L52.0,91.6 L52.5,92.2 L53.0,92.8 L53.5,93.4 L54.0,93.9 L54.5,94.5 L55.0,95.0 L55.5,95.5 L56.0,96.0 L56.5,96.3 L57.0,96.7 L57.5,97.0 L58.0,97.3 L58.5,97.6 L59.0,97.9 L59.5,98.2 L60.0,98.4 L60.5,98.7 L61.0,98.9 L61.5,99.1 L62.0,99.3 L62.5,99.5 L63.0,99.7 L63.5,99.9 L64.0,100.1 L64.5,100.3 L65.0,100.5 L65.5,100.7 L66.0,100.9 L66.5,101.2 L67.0,101.5 L67.5,101.8 L68.0,102.1 L68.5,102.4 L69.0,102.7 L69.5,103.0 L70.0,103.3 L70.5,103.6 L71.0,103.9 L71.5,104.3 L72.0,104.6 L72.5,105.0 L73.0,105.3 L73.5,105.7 L74.0,106.0 L74.5,106.4 L75.0,106.7 L75.5,107.0 L76.0,107.4 L76.5,107.7 L77.0,108.0 L77.5,108.4 L78.0,108.7 L78.5,109.0 L79.0,109.4 L79.5,109.7 L80.0,110.0 L80.5,110.3 L81.0,110.6 L81.5,111.0 L82.0,111.3 L82.5,111.6 L83.0,111.9 L83.5,112.2 L84.0,112.5 L84.5,112.8 L85.0,113.0 L85.5,113.2 L86.0,113.5 L86.5,113.7 L87.0,114.0 L87.5,114.2 L88.0,114.4 L88.5,114.5 L89.0,114.6 L89.5,114.7 L90.0,114.7 L90.5,114.8 L91.0,114.9 L91.5,114.9 L92.0,114.9 L92.5,114.9 L93.0,114.8 L93.5,114.6 L94.0,114.4 L94.5,114.1 L95.0,113.8 L95.5,113.5 L96.0,113.0 L96.5,112.4 L97.0,111.5 L97.5,110.5 L98.0,109.3 L98.5,108.0 L99.0,106.4 L99.5,104.5 L100.0,102.2 L100.5,99.6 L101.0,96.8 L101.5,93.8 L102.0,90.2 L102.5,86.2 L103.0,81.9 L103.5,77.6 L104.0,73.3 L104.5,68.9 L105.0,64.3 L105.5,59.8 L106.0,55.3 L106.5,50.6 L107.0,46.0 L107.5,42.0 L108.0,38.4 L108.5,35.1 L109.0,32.4 L109.5,30.5 L110.0,28.8 L110.5,27.6 L111.0,26.9 L111.5,26.3 L112.0,26.1 L112.5,26.4 L113.0,27.0 L113.5,27.8 L114.0,29.1 L114.5,30.6 L115.0,32.8 L115.5,35.7 L116.0,39.1 L116.5,42.4 L117.0,45.4 L117.5,48.5 L118.0,51.5 L118.5,54.6 L119.0,57.9 L119.5,61.3 L120.0,65.0 L120.5,69.0 L121.0,73.2 L121.5,77.5 L122.0,81.6 L122.5,85.6 L123.0,89.5 L123.5,93.6 L124.0,97.5 L124.5,101.3 L125.0,104.9 L125.5,108.2 L126.0,111.1 L126.5,113.9 L127.0,116.5 L127.5,119.0 L128.0,121.4 L128.5,123.6 L129.0,125.8 L129.5,127.8 L130.0,129.8 L130.5,131.6 L131.0,133.4 L131.5,135.1 L132.0,136.8 L132.5,138.4 L133.0,139.9 L133.5,141.4 L134.0,142.8 L134.5,144.2 L135.0,145.5 L135.5,146.7 L136.0,147.9 L136.5,149.0 L137.0,150.1 L137.5,151.0 L138.0,151.9 L138.5,152.8 L139.0,153.7 L139.5,154.5 L140.0,155.3 L140.5,156.0 L141.0,156.8 L141.5,157.7 L142.0,158.5 L142.5,159.4 L143.0,160.4 L143.5,161.4 L144.0,162.5 L144.5,163.7 L145.0,164.8 L145.5,165.9 L146.0,166.9 L146.5,167.8 L147.0,168.6 L147.5,169.4 L148.0,170.2 L148.5,170.9 L149.0,171.6 L149.5,172.3 L150.0,172.9 L150.5,173.4 L151.0,173.9 L151.5,174.4 L152.0,174.8 L152.5,175.2 L153.0,175.6 L153.5,175.9 L154.0,176.2 L154.5,176.5 L155.0,176.7 L155.5,176.9 L156.0,177.1 L156.5,177.3 L157.0,177.5 L157.5,177.7 L158.0,177.8 L158.5,177.9 L159.0,178.1 L159.5,178.2 L160.0,178.3 L160.5,178.4 L161.0,178.6 L161.5,178.7 L162.0,178.8 L162.5,178.9 L163.0,178.9 L163.5,179.0 L164.0,179.1 L164.5,179.2 L165.0,179.2 L165.5,179.3 L166.0,179.3 L166.5,179.4 L167.0,179.4 L167.5,179.5 L168.0,179.5 L168.5,179.6 L169.0,179.6 L169.5,179.7 L170.0,179.7 L170.5,179.8 L171.0,179.9 L171.5,179.9 L172.0,180.0 L172.5,180.1 L173.0,180.2 L173.5,180.3 L174.0,180.3 L174.5,180.4 L175.0,180.5 L175.5,180.6 L176.0,180.7 L176.5,180.8 L177.0,180.9 L177.5,181.0 L178.0,181.1 L178.5,181.2 L179.0,181.3 L179.5,181.4 L180.0,181.5 L180.5,181.6 L181.0,181.7 L181.5,181.8 L182.0,181.9 L182.5,182.0 L183.0,182.1 L183.5,182.2 L184.0,182.3 L184.5,182.4 L185.0,182.5 L185.5,182.5 L186.0,182.6 L186.5,182.7 L187.0,182.8 L187.5,182.9 L188.0,183.0 L188.5,183.1 L189.0,183.1 L189.5,183.2 L190.0,183.3 L190.5,183.4 L191.0,183.5 L191.5,183.5 L192.0,183.6 L192.5,183.7 L193.0,183.8 L193.5,183.8 L194.0,183.9 L194.5,184.0 L195.0,184.1 L195.5,184.2 L196.0,184.2 L196.5,184.3 L197.0,184.4 L197.5,184.5 L198.0,184.6 L198.5,184.6 L199.0,184.7 L199.5,184.8 L200.0,184.9 L200.5,184.9 L201.0,185.0 L201.5,185.1 L202.0,185.2 L202.5,185.3 L203.0,185.4 L203.5,185.5 L204.0,185.6 L204.5,185.7 L205.0,185.8 L205.5,186.0 L206.0,186.1 L206.5,186.3 L207.0,186.4 L207.5,186.6 L208.0,186.8 L208.5,186.9 L209.0,187.1 L209.5,187.3 L210.0,187.5 L210.5,187.6 L211.0,187.8 L211.5,188.0 L212.0,188.1 L212.5,188.3 L213.0,188.5 L213.5,188.7 L214.0,188.8 L214.5,189.0 L215.0,189.2 L215.5,189.4 L216.0,189.5 L216.5,189.7 L217.0,189.9 L217.5,190.0 L218.0,190.2 L218.5,190.4 L219.0,190.5 L219.5,190.7 L220.0,190.8 L220.5,191.0 L221.0,191.1 L221.5,191.3 L222.0,191.4 L222.5,191.6 L223.0,191.7 L223.5,191.9 L224.0,192.0 L224.5,192.2 L225.0,192.3 L225.5,192.4 L226.0,192.6 L226.5,192.7 L227.0,192.9 L227.5,193.0 L228.0,193.2 L228.5,193.3 L229.0,193.5 L229.5,193.6 L230.0,193.7 L230.5,193.9 L231.0,194.0 L231.5,194.2 L232.0,194.3 L232.5,194.4 L233.0,194.6 L233.5,194.7 L234.0,194.8 L234.5,195.0 L235.0,195.1 L235.5,195.2 L236.0,195.3 L236.5,195.5 L237.0,195.6 L237.5,195.7 L238.0,195.8 L238.5,196.0 L239.0,196.1 L239.5,196.2 L240.0,196.3 L240.5,196.5 L241.0,196.6 L241.5,196.7 L242.0,196.8 L242.5,197.0 L243.0,197.1 L243.5,197.2 L244.0,197.3 L244.5,197.4 L245.0,197.6 L245.5,197.7 L246.0,197.8 L246.5,197.9 L247.0,198.0 L247.5,198.2 L248.0,198.3 L248.5,198.4 L249.0,198.5 L249.5,198.7 L250.0,198.8 L250.5,198.9 L251.0,199.1 L251.5,199.2 L252.0,199.3 L252.5,199.4 L253.0,199.6 L253.5,199.7 L254.0,199.8 L254.5,200.0 L255.0,200.1 L255.5,200.2 L256.0,200.3 L256.5,200.5 L257.0,200.6 L257.5,200.7 L258.0,200.8 L258.5,201.0 L259.0,201.1 L259.5,201.2 L260.0,201.3 L260.5,201.5 L261.0,201.6 L261.5,201.7 L262.0,201.8 L262.5,201.9 L263.0,202.1 L263.5,202.2 L264.0,202.3 L264.5,202.4 L265.0,202.6 L265.5,202.7 L266.0,202.8 L266.5,202.9 L267.0,203.1 L267.5,203.2 L268.0,203.3 L268.5,203.5 L269.0,203.6 L269.5,203.7 L270.0,203.8 L270.5,204.0 L271.0,204.1 L271.5,204.2 L272.0,204.3 L272.5,204.5 L273.0,204.6 L273.5,204.7 L274.0,204.8 L274.5,205.0 L275.0,205.1 L275.5,205.2 L276.0,205.3 L276.5,205.4 L277.0,205.6 L277.5,205.7 L278.0,205.8 L278.5,205.9 L279.0,206.0 L279.5,206.2 L280.0,206.3 L280.5,206.4 L281.0,206.5 L281.5,206.6 L282.0,206.7 L282.5,206.8 L283.0,207.0 L283.5,207.1 L284.0,207.2 L284.5,207.3 L285.0,207.4 L285.5,207.5 L286.0,207.6 L286.5,207.7 L287.0,207.9 L287.5,208.0 L288.0,208.1 L288.5,208.2 L289.0,208.3 L289.5,208.4 L290.0,208.5 L290.5,208.6 L291.0,208.7 L291.5,208.8 L292.0,208.9 L292.5,209.0 L293.0,209.1 L293.5,209.2 L294.0,209.2 L294.5,209.3 L295.0,209.4 L295.5,209.5 L296.0,209.6 L296.5,209.6 L297.0,209.7 L297.5,209.8 L298.0,209.9 L298.5,209.9 L299.0,210.0 L299.5,210.0 L300.0,210.1 L300.5,210.2 L301.0,210.2 L301.5,210.3 L302.0,210.3 L302.5,210.4 L303.0,210.4 L303.5,210.5 L304.0,210.5 L304.5,210.6 L305.0,210.6 L305.5,210.7 L306.0,210.7 L306.5,210.8 L307.0,210.8 L307.5,210.8 L308.0,210.9 L308.5,210.9 L309.0,210.9 L309.5,211.0 L310.0,211.0"/>
<path class="ax" d="M42.5,4.4V220.6H311.5 M37.4,220.4H42.5 M39.4,205.0H42.5 M37.4,189.6H42.5 M39.4,174.2H42.5 M37.4,158.8H42.5 M39.4,143.4H42.5 M37.4,128.1H42.5 M39.4,112.7H42.5 M37.4,97.3H42.5 M39.4,81.9H42.5 M37.4,66.5H42.5 M39.4,51.1H42.5 M37.4,35.7H42.5 M39.4,20.3H42.5 M37.4,4.9H42.5 M42.4,220.6V223.2 M72.2,220.6V225.2 M102.1,220.6V223.2 M131.9,220.6V225.2 M161.8,220.6V223.2 M191.6,220.6V225.2 M221.4,220.6V223.2 M251.3,220.6V225.2 M281.1,220.6V223.2 M311.0,220.6V225.2"/>
<text class="tk" transform="translate(35.1,223.1) scale(0.955,1)" text-anchor="end">0.0</text>
<text class="tk" transform="translate(35.1,192.3) scale(0.955,1)" text-anchor="end">0.2</text>
<text class="tk" transform="translate(35.1,161.5) scale(0.955,1)" text-anchor="end">0.4</text>
<text class="tk" transform="translate(35.1,130.8) scale(0.955,1)" text-anchor="end">0.6</text>
<text class="tk" transform="translate(35.1,100.0) scale(0.955,1)" text-anchor="end">0.8</text>
<text class="tk" transform="translate(35.1,69.2) scale(0.955,1)" text-anchor="end">1.0</text>
<text class="tk" transform="translate(35.1,38.4) scale(0.955,1)" text-anchor="end">1.2</text>
<text class="tk" transform="translate(35.1,7.6) scale(0.955,1)" text-anchor="end">1.4</text>
<text class="tk" transform="translate(72.2,235.3) scale(0.955,1)" text-anchor="middle">400</text>
<text class="tk" transform="translate(131.9,235.3) scale(0.955,1)" text-anchor="middle">600</text>
<text class="tk" transform="translate(191.6,235.3) scale(0.955,1)" text-anchor="middle">800</text>
<text class="tk" transform="translate(251.3,235.3) scale(0.955,1)" text-anchor="middle">1000</text>
<text class="tk" transform="translate(311.0,235.3) scale(0.955,1)" text-anchor="middle">1200</text>
<text class="lb" transform="translate(176.0,252.8) scale(0.975,1)" text-anchor="middle">wavelength [nm]</text>
<text class="lb" style="font-size:11.4px" transform="translate(10.6,103.8) rotate(-90)" text-anchor="middle">absorption [a.u.]</text>
<rect x="240.8" y="5.3" width="55.8" height="85.1" fill="#fff" stroke="#555" stroke-width="0.7"/>
<path d="M242.6,14.0H266.7" stroke="#151515" stroke-width="1.5" fill="none"/>
<text class="lg" transform="translate(270.2,18.3) scale(0.975,1)">20 µl</text>
<path d="M242.6,27.3H266.7" stroke="#f01818" stroke-width="1.25" fill="none"/>
<text class="lg" transform="translate(270.2,31.6) scale(0.975,1)">25 µl</text>
<path d="M242.6,40.9H266.7" stroke="#2020f0" stroke-width="1.25" fill="none"/>
<text class="lg" transform="translate(270.2,45.2) scale(0.975,1)">30 µl</text>
<path d="M242.6,54.9H266.7" stroke="#f020f0" stroke-width="1.25" fill="none"/>
<text class="lg" transform="translate(270.2,59.2) scale(0.975,1)">35 µl</text>
<path d="M242.6,68.9H266.7" stroke="#1a8a1a" stroke-width="1.25" fill="none"/>
<text class="lg" transform="translate(270.2,73.2) scale(0.975,1)">40 µl</text>
<path d="M242.6,82.6H266.7" stroke="#20209a" stroke-width="1.25" fill="none"/>
<text class="lg" transform="translate(270.2,86.9) scale(0.975,1)">45 µl</text>
<rect class="bar" x="377.2" y="219.7" width="6.2" height="0.9"/>
<rect class="bar" x="385.6" y="216.3" width="6.2" height="4.3"/>
<rect class="bar" x="393.9" y="212.2" width="6.2" height="8.4"/>
<rect class="bar" x="402.3" y="209.7" width="6.2" height="10.9"/>
<rect class="bar" x="410.6" y="212.1" width="6.2" height="8.5"/>
<rect class="bar" x="419.0" y="216.3" width="6.2" height="4.3"/>
<rect class="bar" x="427.4" y="220.0" width="6.2" height="0.6"/>
<rect class="bar" x="435.7" y="217.6" width="6.2" height="3.0"/>
<rect class="bar" x="444.1" y="209.8" width="6.2" height="10.8"/>
<rect class="bar" x="452.5" y="198.5" width="6.2" height="22.1"/>
<rect class="bar" x="460.8" y="187.9" width="6.2" height="32.7"/>
<rect class="bar" x="469.2" y="183.6" width="6.2" height="37.0"/>
<rect class="bar" x="477.5" y="188.9" width="6.2" height="31.7"/>
<rect class="bar" x="485.9" y="201.7" width="6.2" height="18.9"/>
<rect class="bar" x="494.3" y="214.9" width="6.2" height="5.7"/>
<rect class="bar" x="544.4" y="203.5" width="6.2" height="17.1"/>
<rect class="bar" x="552.8" y="153.1" width="6.2" height="67.5"/>
<rect class="bar" x="561.2" y="88.7" width="6.2" height="131.9"/>
<rect class="bar" x="569.5" y="36.9" width="6.2" height="183.7"/>
<rect class="bar" x="577.9" y="25.5" width="6.2" height="195.1"/>
<rect class="bar" x="586.3" y="65.0" width="6.2" height="155.6"/>
<rect class="bar" x="594.6" y="134.6" width="6.2" height="86.0"/>
<rect class="bar" x="603.0" y="198.1" width="6.2" height="22.5"/>
<path class="ax" style="stroke-width:1.3" d="M362.7,7.5V220.6H625.6 M358.2,220.6H362.7 M360.2,210.0H362.7 M358.2,199.3H362.7 M360.2,188.7H362.7 M358.2,178.1H362.7 M360.2,167.4H362.7 M358.2,156.8H362.7 M360.2,146.2H362.7 M358.2,135.6H362.7 M360.2,124.9H362.7 M358.2,114.3H362.7 M360.2,103.7H362.7 M358.2,93.0H362.7 M360.2,82.4H362.7 M358.2,71.8H362.7 M360.2,61.1H362.7 M358.2,50.5H362.7 M360.2,39.9H362.7 M358.2,29.3H362.7 M360.2,18.6H362.7 M358.2,8.0H362.7 M362.7,220.6V225.2 M402.2,220.6V223.2 M425.3,220.6V223.2 M441.7,220.6V223.2 M454.4,220.6V223.2 M464.8,220.6V223.2 M473.6,220.6V223.2 M481.2,220.6V223.2 M487.9,220.6V223.2 M493.9,220.6V225.2 M533.4,220.6V223.2 M556.5,220.6V223.2 M572.9,220.6V223.2 M585.6,220.6V223.2 M596.0,220.6V223.2 M604.8,220.6V223.2 M612.4,220.6V223.2 M619.1,220.6V223.2 M625.1,220.6V225.2"/>
<text class="tk" transform="translate(355.0,223.6) scale(0.955,1)" text-anchor="end">0</text>
<text class="tk" transform="translate(355.0,202.3) scale(0.955,1)" text-anchor="end">2</text>
<text class="tk" transform="translate(355.0,181.1) scale(0.955,1)" text-anchor="end">4</text>
<text class="tk" transform="translate(355.0,159.8) scale(0.955,1)" text-anchor="end">6</text>
<text class="tk" transform="translate(355.0,138.6) scale(0.955,1)" text-anchor="end">8</text>
<text class="tk" transform="translate(355.0,117.3) scale(0.955,1)" text-anchor="end">10</text>
<text class="tk" transform="translate(355.0,96.0) scale(0.955,1)" text-anchor="end">12</text>
<text class="tk" transform="translate(355.0,74.8) scale(0.955,1)" text-anchor="end">14</text>
<text class="tk" transform="translate(355.0,53.5) scale(0.955,1)" text-anchor="end">16</text>
<text class="tk" transform="translate(355.0,32.3) scale(0.955,1)" text-anchor="end">18</text>
<text class="tk" transform="translate(355.0,11.0) scale(0.955,1)" text-anchor="end">20</text>
<text class="tk" transform="translate(363.0,234.6) scale(0.955,1)" text-anchor="middle">10</text>
<text class="tk" transform="translate(494.2,234.6) scale(0.955,1)" text-anchor="middle">100</text>
<text class="tk" transform="translate(625.4,234.6) scale(0.955,1)" text-anchor="middle">1000</text>
<text class="lb" transform="translate(493.9,252.7) scale(0.975,1)" text-anchor="middle">size [nm]</text>
<text class="lb" style="font-size:11.4px" transform="translate(340.8,114.8) rotate(-90)" text-anchor="middle">intensity [%]</text>
</svg></body></html>
